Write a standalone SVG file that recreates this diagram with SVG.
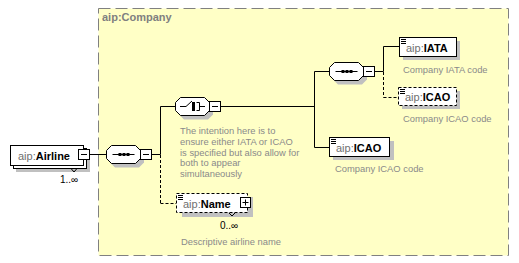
<svg xmlns="http://www.w3.org/2000/svg" width="519" height="263" viewBox="0 0 519 263">
  <style>
    .ln { stroke: #000; stroke-width: 1; fill: none; }
    .dash { stroke: #000; stroke-width: 1; fill: none; stroke-dasharray: 3 2; }
    .box { fill: #fff; stroke: #000; stroke-width: 1; }
    .dbox { fill: #fff; stroke: #000; stroke-width: 1; stroke-dasharray: 3 2; }
    .shadow { fill: #c0c0c0; stroke: none; }
    .label { font-family: "Liberation Sans", Arial, sans-serif; font-size: 11px; }
    .ns { fill: #707070; }
    .name { fill: #000; font-weight: bold; }
    .note { font-family: "Liberation Sans", Arial, sans-serif; font-size: 9.4px; fill: #8a8a8a; }
    .occ { font-family: "Liberation Sans", Arial, sans-serif; font-size: 10px; fill: #000; }
    .dot { fill: #000; }
  </style>
  <defs>
    <!-- compositor octagon, origin at left/top -->
    <polygon id="oct" points="5,0 29,0 34,5 34,13 29,18 5,18 0,13 0,5"/>
    <!-- collapse (minus) button -->
    <g id="minus">
      <rect class="box" x="0" y="0" width="11" height="10"/>
      <line class="ln" x1="2.5" y1="5" x2="8.5" y2="5"/>
    </g>
    <!-- expand (plus) button -->
    <g id="plus">
      <rect class="box" x="0" y="0" width="10" height="10"/>
      <line class="ln" x1="2" y1="5" x2="8" y2="5"/>
      <line class="ln" x1="5" y1="2" x2="5" y2="8"/>
    </g>
    <!-- simple-content marker in element corner -->
    <g id="doc">
      <line class="ln" x1="0" y1="0.5" x2="5" y2="0.5"/>
      <line class="ln" x1="0" y1="2.5" x2="5" y2="2.5"/>
      <line class="ln" x1="0" y1="4.5" x2="5" y2="4.5"/>
    </g>
    <!-- sequence glyph -->
    <g id="seqIcon">
      <line class="ln" x1="6" y1="9" x2="28" y2="9"/>
      <rect class="dot" x="12" y="7.5" width="3" height="3"/>
      <rect class="dot" x="16" y="7.5" width="3" height="3"/>
      <rect class="dot" x="20" y="7.5" width="3" height="3"/>
    </g>
  </defs>

  <!-- complex type area -->
  <g id="company">
    <rect x="98.5" y="8.5" width="410" height="247" fill="#ffffc6" stroke="#808080" stroke-width="1" stroke-dasharray="12 5"/>
    <text x="102" y="21" class="label" font-weight="bold" fill="#808080">aip:Company</text>
  </g>

  <!-- connectors -->
  <g id="connectors">
    <line class="ln" x1="89" y1="154.5" x2="106" y2="154.5"/>
    <line class="ln" x1="151" y1="154.5" x2="160.5" y2="154.5"/>
    <line class="ln" x1="160.5" y1="106.5" x2="160.5" y2="154.5"/>
    <line class="dash" x1="160.5" y1="155" x2="160.5" y2="203.5"/>
    <line class="dash" x1="160.5" y1="203.5" x2="176" y2="203.5"/>
    <line class="ln" x1="160.5" y1="106.5" x2="175" y2="106.5"/>
    <line class="ln" x1="220" y1="106.5" x2="314.5" y2="106.5"/>
    <line class="ln" x1="314.5" y1="71.5" x2="314.5" y2="147.5"/>
    <line class="ln" x1="314.5" y1="71.5" x2="329" y2="71.5"/>
    <line class="ln" x1="314.5" y1="147.5" x2="329" y2="147.5"/>
    <line class="ln" x1="374" y1="71.5" x2="383.5" y2="71.5"/>
    <line class="ln" x1="383.5" y1="46.5" x2="383.5" y2="71.5"/>
    <line class="dash" x1="383.5" y1="72" x2="383.5" y2="97.5"/>
    <line class="ln" x1="383.5" y1="46.5" x2="399" y2="46.5"/>
    <line class="dash" x1="383.5" y1="97.5" x2="398" y2="97.5"/>
  </g>

  <!-- root element, repeated -->
  <g id="airline">
    <rect class="shadow" x="16" y="151" width="74" height="21"/>
    <rect class="box" x="13.5" y="148.5" width="73" height="20"/>
    <rect class="box" x="10.5" y="145.5" width="73" height="20"/>
    <polyline class="ln" points="71,168.5 74,172 77,168.5" fill="#fff"/>
    <text x="18" y="160" class="label"><tspan class="ns">aip:</tspan><tspan class="name">Airline</tspan></text>
    <use href="#minus" x="78.5" y="149.5"/>
    <text x="60" y="183" class="occ">1..∞</text>
  </g>

  <!-- outer sequence -->
  <g id="seq1">
    <use href="#oct" x="110" y="149.5" class="shadow"/>
    <use href="#oct" x="106.5" y="145.5" fill="#fff" stroke="#000"/>
    <use href="#seqIcon" x="106.5" y="145.5"/>
    <use href="#minus" x="140.5" y="149.5"/>
  </g>

  <!-- choice -->
  <g id="choice">
    <use href="#oct" x="179" y="101.5" class="shadow"/>
    <use href="#oct" x="175.5" y="97.5" fill="#fff" stroke="#000"/>
    <polyline class="ln" points="180,106.5 186,106.5 192,101"/>
    <rect class="dot" x="192" y="102" width="3" height="3"/>
    <rect class="dot" x="192" y="105" width="3" height="3"/>
    <rect class="dot" x="192" y="108" width="3" height="3"/>
    <polyline class="ln" points="196.5,102.5 199.5,102.5 199.5,110.5 196.5,110.5"/>
    <line class="ln" x1="199.5" y1="106.5" x2="205" y2="106.5"/>
    <use href="#minus" x="209.5" y="101.5"/>
    <text class="note">
      <tspan x="180" y="134">The intention here is to</tspan>
      <tspan x="180" y="144.8">ensure either IATA or ICAO</tspan>
      <tspan x="180" y="155.6">is specified but also allow for</tspan>
      <tspan x="180" y="166.4">both to appear</tspan>
      <tspan x="180" y="177.2">simultaneously</tspan>
    </text>
  </g>

  <!-- inner sequence -->
  <g id="seq2">
    <use href="#oct" x="333" y="66.5" class="shadow"/>
    <use href="#oct" x="329.5" y="62.5" fill="#fff" stroke="#000"/>
    <use href="#seqIcon" x="329.5" y="62.5"/>
    <use href="#minus" x="363.5" y="66.5"/>
  </g>

  <g id="iata">
    <rect class="shadow" x="403" y="41" width="57" height="19"/>
    <rect class="box" x="399.5" y="37.5" width="57" height="19"/>
    <use href="#doc" x="401" y="39"/>
    <text x="406" y="52" class="label"><tspan class="ns">aip:</tspan><tspan class="name">IATA</tspan></text>
    <text x="403" y="73" class="note">Company IATA code</text>
  </g>

  <g id="icaoOptional">
    <rect class="shadow" x="402" y="91" width="58" height="18"/>
    <rect class="dbox" x="398.5" y="87.5" width="58" height="18"/>
    <use href="#doc" x="400" y="89"/>
    <text x="405" y="101" class="label"><tspan class="ns">aip:</tspan><tspan class="name">ICAO</tspan></text>
    <text x="403" y="121.5" class="note">Company ICAO code</text>
  </g>

  <g id="icao">
    <rect class="shadow" x="333" y="141" width="61" height="19"/>
    <rect class="box" x="329.5" y="137.5" width="60" height="19"/>
    <use href="#doc" x="331" y="139"/>
    <text x="336" y="152" class="label"><tspan class="ns">aip:</tspan><tspan class="name">ICAO</tspan></text>
    <text x="335" y="172" class="note">Company ICAO code</text>
  </g>

  <g id="nameEl">
    <rect class="shadow" x="182" y="197" width="71" height="20"/>
    <rect class="dbox" x="176.5" y="193.5" width="71" height="19"/>
    <use href="#doc" x="178" y="195"/>
    <polyline class="ln" points="229,213 232,216 235,213" fill="#fff"/>
    <text x="183" y="207.5" class="label"><tspan class="ns">aip:</tspan><tspan class="name">Name</tspan></text>
    <use href="#plus" x="240.5" y="197.5"/>
    <text x="220" y="229" class="occ">0..∞</text>
    <text x="181" y="244.5" class="note">Descriptive airline name</text>
  </g>
</svg>
